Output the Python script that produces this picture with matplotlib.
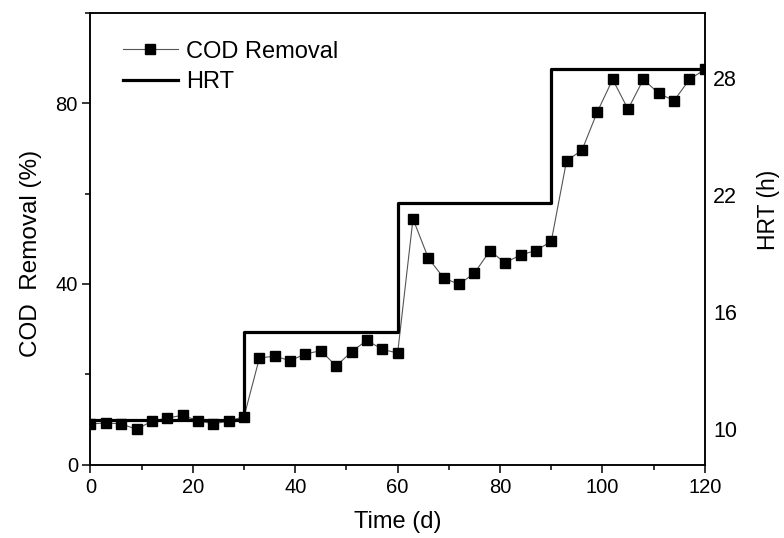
import numpy as np
import matplotlib
matplotlib.use("Agg")
import matplotlib.pyplot as plt
from matplotlib.ticker import MultipleLocator

plt.rcParams['font.family'] = ['Liberation Sans', 'DejaVu Sans']

# COD removal, sampled every 3 days
days = np.arange(0, 121, 3)
cod_removal = [9.0, 9.2, 9.0, 7.8, 9.6, 10.3, 10.9, 9.7, 9.0, 9.6, 10.6,
               23.6, 24.0, 23.0, 24.5, 25.2, 21.8, 25.0, 27.5, 25.5, 24.7,
               54.4, 45.7, 41.3, 39.9, 42.4, 47.3, 44.7, 46.4, 47.4, 49.4,
               67.3, 69.6, 78.1, 85.3, 78.7, 85.3, 82.2, 80.6, 85.3, 87.5]

# HRT stages (start day of each stage, level in h)
hrt_start = [0, 30, 60, 90]
hrt_end = 120
hrt_level = [10.5, 15.0, 21.6, 28.5]
hrt_ticks = [10, 16, 22, 28]

fig = plt.figure(figsize=(7.84, 5.38), dpi=100)
ax = fig.add_axes([0.1154, 0.1366, 0.7836, 0.8392])
ax2 = ax.twinx()

# COD removal series
ax.plot(days, cod_removal, color='#555555', lw=0.8, marker='s',
        markersize=7.8, markerfacecolor='black', markeredgecolor='black',
        label='COD Removal', zorder=3)

# HRT step line
step_x = np.append(hrt_start, hrt_end)
step_y = np.append(hrt_level, hrt_level[-1])
line_hrt, = ax2.step(step_x, step_y, where='post', color='black', lw=2.3,
                     label='HRT')

ax.set_xlim(0, 120)
ax.set_ylim(0, 100)
ax2.set_ylim(8.2, 31.35)

ax.xaxis.set_major_locator(MultipleLocator(20))
ax.xaxis.set_minor_locator(MultipleLocator(10))
ax.yaxis.set_major_locator(MultipleLocator(40))
ax.yaxis.set_minor_locator(MultipleLocator(20))
ax2.set_yticks(hrt_ticks)

ax.tick_params(axis='x', which='major', direction='out', length=6,
               width=1.1, labelsize=14.5, pad=4)
ax.tick_params(axis='x', which='minor', direction='out', length=3.5,
               width=1.1)
ax.tick_params(axis='y', which='major', direction='out', length=6,
               width=1.1, labelsize=14.5, pad=3)
ax.tick_params(axis='y', which='minor', direction='out', length=3.5,
               width=1.1)
ax2.tick_params(axis='y', length=0, labelsize=15.5, pad=6)

for sp in list(ax.spines.values()) + list(ax2.spines.values()):
    sp.set_linewidth(1.1)

ax.set_xlabel('Time (d)', fontsize=17, labelpad=10)
ax.set_ylabel('COD  Removal (%)', fontsize=17.5)
ax.yaxis.set_label_coords(-0.0785, 0.468)
ax2.set_ylabel('HRT (h)', fontsize=16.5)
ax2.yaxis.set_label_coords(1.0846, 0.563)

h1, l1 = ax.get_legend_handles_labels()
ax.legend(h1 + [line_hrt], l1 + ['HRT'], loc='upper left',
          bbox_to_anchor=(0.038, 0.96), frameon=False, fontsize=17,
          handlelength=2.3, handletextpad=0.35, labelspacing=0.38,
          borderaxespad=0.0)

fig.savefig('out.png', dpi=100)
